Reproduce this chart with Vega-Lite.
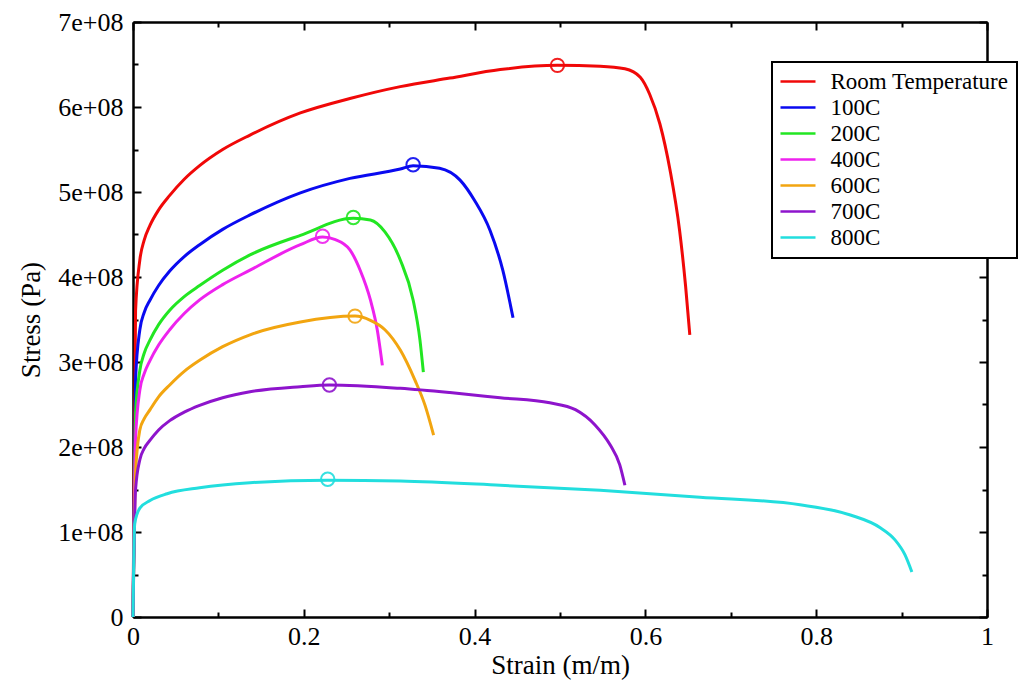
{
  "$schema": "https://vega.github.io/schema/vega-lite/v6.json",
  "width": 854,
  "height": 595,
  "autosize": {"type": "none"},
  "padding": {"left": 133, "top": 22, "right": 31, "bottom": 67},
  "background": "white",
  "config": {
    "view": {"stroke": null},
    "legend": {"strokeWidth": 2},
    "axis": {
      "grid": false,
      "domainColor": "black",
      "domainWidth": 2,
      "tickColor": "black",
      "tickWidth": 2,
      "labelFont": "Liberation Serif",
      "titleFont": "Liberation Serif",
      "labelColor": "black",
      "titleColor": "black",
      "labelFontSize": 26,
      "titleFontSize": 27,
      "titleFontWeight": "normal",
      "labelFlush": false,
      "labelOverlap": false
    }
  },
  "datasets": {
    "curves": [
      {"series": "Room Temperature", "strain": 0, "stress": 0},
      {"series": "Room Temperature", "strain": 0.003, "stress": 360000000},
      {"series": "Room Temperature", "strain": 0.008, "stress": 420000000},
      {"series": "Room Temperature", "strain": 0.013, "stress": 443000000},
      {"series": "Room Temperature", "strain": 0.02, "stress": 461000000},
      {"series": "Room Temperature", "strain": 0.03, "stress": 479000000},
      {"series": "Room Temperature", "strain": 0.043, "stress": 496000000},
      {"series": "Room Temperature", "strain": 0.06, "stress": 515000000},
      {"series": "Room Temperature", "strain": 0.078, "stress": 531000000},
      {"series": "Room Temperature", "strain": 0.105, "stress": 550000000},
      {"series": "Room Temperature", "strain": 0.137, "stress": 567000000},
      {"series": "Room Temperature", "strain": 0.196, "stress": 593000000},
      {"series": "Room Temperature", "strain": 0.254, "stress": 610000000},
      {"series": "Room Temperature", "strain": 0.313, "stress": 624000000},
      {"series": "Room Temperature", "strain": 0.371, "stress": 634000000},
      {"series": "Room Temperature", "strain": 0.43, "stress": 644000000},
      {"series": "Room Temperature", "strain": 0.497, "stress": 649000000},
      {"series": "Room Temperature", "strain": 0.547, "stress": 648000000},
      {"series": "Room Temperature", "strain": 0.576, "stress": 645000000},
      {"series": "Room Temperature", "strain": 0.594, "stress": 635000000},
      {"series": "Room Temperature", "strain": 0.605, "stress": 615000000},
      {"series": "Room Temperature", "strain": 0.617, "stress": 580000000},
      {"series": "Room Temperature", "strain": 0.629, "stress": 525000000},
      {"series": "Room Temperature", "strain": 0.64, "stress": 455000000},
      {"series": "Room Temperature", "strain": 0.647, "stress": 390000000},
      {"series": "Room Temperature", "strain": 0.652, "stress": 332000000},
      {"series": "100C", "strain": 0, "stress": 0},
      {"series": "100C", "strain": 0.003, "stress": 280000000},
      {"series": "100C", "strain": 0.008, "stress": 338000000},
      {"series": "100C", "strain": 0.013, "stress": 358000000},
      {"series": "100C", "strain": 0.02, "stress": 373000000},
      {"series": "100C", "strain": 0.03, "stress": 390000000},
      {"series": "100C", "strain": 0.043, "stress": 407000000},
      {"series": "100C", "strain": 0.06, "stress": 424000000},
      {"series": "100C", "strain": 0.078, "stress": 438000000},
      {"series": "100C", "strain": 0.105, "stress": 456000000},
      {"series": "100C", "strain": 0.137, "stress": 473000000},
      {"series": "100C", "strain": 0.196, "stress": 499000000},
      {"series": "100C", "strain": 0.254, "stress": 516000000},
      {"series": "100C", "strain": 0.313, "stress": 527000000},
      {"series": "100C", "strain": 0.328, "stress": 531000000},
      {"series": "100C", "strain": 0.359, "stress": 528000000},
      {"series": "100C", "strain": 0.383, "stress": 514000000},
      {"series": "100C", "strain": 0.4, "stress": 490000000},
      {"series": "100C", "strain": 0.418, "stress": 455000000},
      {"series": "100C", "strain": 0.433, "stress": 408000000},
      {"series": "100C", "strain": 0.445, "stress": 352000000},
      {"series": "200C", "strain": 0, "stress": 0},
      {"series": "200C", "strain": 0.003, "stress": 240000000},
      {"series": "200C", "strain": 0.008, "stress": 290000000},
      {"series": "200C", "strain": 0.013, "stress": 310000000},
      {"series": "200C", "strain": 0.02, "stress": 326000000},
      {"series": "200C", "strain": 0.03, "stress": 344000000},
      {"series": "200C", "strain": 0.043, "stress": 361000000},
      {"series": "200C", "strain": 0.06, "stress": 377000000},
      {"series": "200C", "strain": 0.078, "stress": 390000000},
      {"series": "200C", "strain": 0.105, "stress": 408000000},
      {"series": "200C", "strain": 0.137, "stress": 426000000},
      {"series": "200C", "strain": 0.196, "stress": 449000000},
      {"series": "200C", "strain": 0.258, "stress": 469000000},
      {"series": "200C", "strain": 0.278, "stress": 467000000},
      {"series": "200C", "strain": 0.295, "stress": 453000000},
      {"series": "200C", "strain": 0.313, "stress": 420000000},
      {"series": "200C", "strain": 0.328, "stress": 373000000},
      {"series": "200C", "strain": 0.336, "stress": 326000000},
      {"series": "200C", "strain": 0.34, "stress": 288000000},
      {"series": "400C", "strain": 0, "stress": 0},
      {"series": "400C", "strain": 0.003, "stress": 210000000},
      {"series": "400C", "strain": 0.008, "stress": 267000000},
      {"series": "400C", "strain": 0.013, "stress": 286000000},
      {"series": "400C", "strain": 0.02, "stress": 302000000},
      {"series": "400C", "strain": 0.03, "stress": 320000000},
      {"series": "400C", "strain": 0.043, "stress": 338000000},
      {"series": "400C", "strain": 0.06, "stress": 357000000},
      {"series": "400C", "strain": 0.078, "stress": 373000000},
      {"series": "400C", "strain": 0.105, "stress": 391000000},
      {"series": "400C", "strain": 0.137, "stress": 408000000},
      {"series": "400C", "strain": 0.196, "stress": 438000000},
      {"series": "400C", "strain": 0.222, "stress": 447000000},
      {"series": "400C", "strain": 0.237, "stress": 444000000},
      {"series": "400C", "strain": 0.254, "stress": 432000000},
      {"series": "400C", "strain": 0.266, "stress": 408000000},
      {"series": "400C", "strain": 0.278, "stress": 373000000},
      {"series": "400C", "strain": 0.286, "stress": 338000000},
      {"series": "400C", "strain": 0.292, "stress": 296000000},
      {"series": "600C", "strain": 0, "stress": 0},
      {"series": "600C", "strain": 0.003, "stress": 170000000},
      {"series": "600C", "strain": 0.008, "stress": 220000000},
      {"series": "600C", "strain": 0.013, "stress": 233000000},
      {"series": "600C", "strain": 0.02, "stress": 244000000},
      {"series": "600C", "strain": 0.03, "stress": 259000000},
      {"series": "600C", "strain": 0.043, "stress": 273000000},
      {"series": "600C", "strain": 0.06, "stress": 289000000},
      {"series": "600C", "strain": 0.078, "stress": 302000000},
      {"series": "600C", "strain": 0.105, "stress": 318000000},
      {"series": "600C", "strain": 0.137, "stress": 332000000},
      {"series": "600C", "strain": 0.196, "stress": 347000000},
      {"series": "600C", "strain": 0.26, "stress": 354000000},
      {"series": "600C", "strain": 0.278, "stress": 349000000},
      {"series": "600C", "strain": 0.295, "stress": 338000000},
      {"series": "600C", "strain": 0.313, "stress": 314000000},
      {"series": "600C", "strain": 0.33, "stress": 279000000},
      {"series": "600C", "strain": 0.342, "stress": 249000000},
      {"series": "600C", "strain": 0.352, "stress": 214000000},
      {"series": "700C", "strain": 0, "stress": 0},
      {"series": "700C", "strain": 0.003, "stress": 150000000},
      {"series": "700C", "strain": 0.008, "stress": 185000000},
      {"series": "700C", "strain": 0.013, "stress": 198000000},
      {"series": "700C", "strain": 0.02, "stress": 208000000},
      {"series": "700C", "strain": 0.03, "stress": 220000000},
      {"series": "700C", "strain": 0.043, "stress": 231000000},
      {"series": "700C", "strain": 0.06, "stress": 241000000},
      {"series": "700C", "strain": 0.078, "stress": 249000000},
      {"series": "700C", "strain": 0.105, "stress": 258000000},
      {"series": "700C", "strain": 0.137, "stress": 265000000},
      {"series": "700C", "strain": 0.196, "stress": 271000000},
      {"series": "700C", "strain": 0.23, "stress": 273000000},
      {"series": "700C", "strain": 0.313, "stress": 269000000},
      {"series": "700C", "strain": 0.371, "stress": 264000000},
      {"series": "700C", "strain": 0.43, "stress": 258000000},
      {"series": "700C", "strain": 0.488, "stress": 252000000},
      {"series": "700C", "strain": 0.518, "stress": 244000000},
      {"series": "700C", "strain": 0.541, "stress": 226000000},
      {"series": "700C", "strain": 0.559, "stress": 202000000},
      {"series": "700C", "strain": 0.57, "stress": 179000000},
      {"series": "700C", "strain": 0.576, "stress": 155000000},
      {"series": "800C", "strain": 0, "stress": 0},
      {"series": "800C", "strain": 0.002, "stress": 110000000},
      {"series": "800C", "strain": 0.008, "stress": 128000000},
      {"series": "800C", "strain": 0.02, "stress": 137000000},
      {"series": "800C", "strain": 0.04, "stress": 145000000},
      {"series": "800C", "strain": 0.078, "stress": 152000000},
      {"series": "800C", "strain": 0.137, "stress": 158000000},
      {"series": "800C", "strain": 0.228, "stress": 161000000},
      {"series": "800C", "strain": 0.313, "stress": 160000000},
      {"series": "800C", "strain": 0.43, "stress": 155000000},
      {"series": "800C", "strain": 0.547, "stress": 149000000},
      {"series": "800C", "strain": 0.664, "stress": 141000000},
      {"series": "800C", "strain": 0.781, "stress": 132000000},
      {"series": "800C", "strain": 0.84, "stress": 120000000},
      {"series": "800C", "strain": 0.875, "stress": 105000000},
      {"series": "800C", "strain": 0.892, "stress": 91000000},
      {"series": "800C", "strain": 0.904, "stress": 73000000},
      {"series": "800C", "strain": 0.912, "stress": 53000000}
    ],
    "peaks": [
      {"series": "Room Temperature", "strain": 0.497, "stress": 649000000},
      {"series": "100C", "strain": 0.328, "stress": 532000000},
      {"series": "200C", "strain": 0.258, "stress": 470000000},
      {"series": "400C", "strain": 0.222, "stress": 448000000},
      {"series": "600C", "strain": 0.26, "stress": 354000000},
      {"series": "700C", "strain": 0.23, "stress": 273000000},
      {"series": "800C", "strain": 0.228, "stress": 162000000}
    ]
  },
  "layer": [
    {
      "data": {"name": "curves"},
      "mark": {"type": "line", "strokeWidth": 3, "interpolate": "monotone"},
      "encoding": {
        "x": {
          "field": "strain", "type": "quantitative",
          "scale": {"domain": [0, 1], "nice": false, "zero": false},
          "axis": {"orient": "bottom", "values": [0, 0.2, 0.4, 0.6, 0.8, 1], "format": ".1~f", "tickSize": -8, "labelPadding": 14, "title": "Strain (m/m)", "titlePadding": 3}
        },
        "y": {
          "field": "stress", "type": "quantitative",
          "scale": {"domain": [0, 700000000], "nice": false, "zero": false},
          "axis": {"orient": "left", "values": [0, 100000000, 200000000, 300000000, 400000000, 500000000, 600000000, 700000000], "labelExpr": "datum.value == 0 ? '0' : format(datum.value / 100000000, 'd') + 'e+08'", "tickSize": -8, "labelPadding": 18, "title": "Stress (Pa)", "titlePadding": 12}
        },
        "color": {
          "field": "series", "type": "nominal",
          "scale": {
            "domain": ["Room Temperature", "100C", "200C", "400C", "600C", "700C", "800C"],
            "range": ["#f00808", "#0a0af0", "#22e622", "#ee22ee", "#f2a510", "#8e14cc", "#22dede"]
          },
          "legend": {
            "orient": "none", "legendX": 639, "legendY": 40, "title": null,
            "symbolType": "M-1.75,0H1.75", "symbolSize": 400, "symbolStrokeWidth": 2.5, "symbolOffset": 6.5,
            "labelFont": "Liberation Serif", "labelFontSize": 23, "labelColor": "black",
            "labelLimit": 400, "labelOffset": 21, "rowPadding": 2, "padding": 8,
            "strokeColor": "black", "fillColor": "white"
          }
        }
      }
    },
    {
      "data": {"name": "peaks"},
      "mark": {"type": "point", "shape": "circle", "filled": false, "size": 180, "strokeWidth": 2, "opacity": 0.9},
      "encoding": {
        "x": {"field": "strain", "type": "quantitative", "axis": {"orient": "top", "values": [0, 0.2, 0.4, 0.6, 0.8, 1], "labels": false, "title": null, "tickSize": -8}},
        "y": {"field": "stress", "type": "quantitative", "axis": {"orient": "right", "values": [0, 100000000, 200000000, 300000000, 400000000, 500000000, 600000000, 700000000], "labels": false, "title": null, "tickSize": -8}},
        "color": {"field": "series", "type": "nominal", "legend": null}
      }
    },
    {
      "data": {"name": "peaks"},
      "mark": {"type": "point", "opacity": 0},
      "encoding": {
        "x": {"field": "strain", "type": "quantitative", "axis": {"orient": "bottom", "values": [0.1, 0.3, 0.5, 0.7, 0.9], "labels": false, "title": null, "tickSize": -5}},
        "y": {"field": "stress", "type": "quantitative", "axis": {"orient": "left", "values": [50000000, 150000000, 250000000, 350000000, 450000000, 550000000, 650000000], "labels": false, "title": null, "tickSize": -5}}
      }
    },
    {
      "data": {"name": "peaks"},
      "mark": {"type": "point", "opacity": 0},
      "encoding": {
        "x": {"field": "strain", "type": "quantitative", "axis": {"orient": "top", "values": [0.1, 0.3, 0.5, 0.7, 0.9], "labels": false, "title": null, "tickSize": -5}},
        "y": {"field": "stress", "type": "quantitative", "axis": {"orient": "right", "values": [50000000, 150000000, 250000000, 350000000, 450000000, 550000000, 650000000], "labels": false, "title": null, "tickSize": -5}}
      }
    }
  ],
  "resolve": {
    "scale": {"x": "shared", "y": "shared", "color": "shared"},
    "axis": {"x": "independent", "y": "independent"}
  }
}
